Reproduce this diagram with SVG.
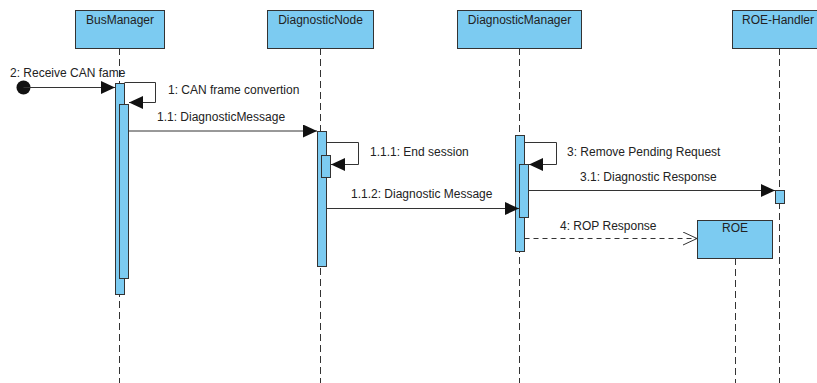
<svg xmlns="http://www.w3.org/2000/svg" width="817" height="383" viewBox="0 0 817 383">
  <style>
    .box { fill: #7ccbf1; stroke: #333; stroke-width: 1; }
    .bar { fill: #7ccbf1; stroke: #333; stroke-width: 1; }
    .life { stroke: #333; stroke-width: 1; stroke-dasharray: 7 4; fill: none; }
    .msg { stroke: #333; stroke-width: 1; fill: none; }
    .ret { stroke: #333; stroke-width: 1; fill: none; stroke-dasharray: 5 4; }
    text { font-family: "Liberation Sans", Arial, sans-serif; font-size: 12px; fill: #222; }
    .title { text-anchor: middle; }
  </style>
  <defs>
    <marker id="filled" markerUnits="userSpaceOnUse" markerWidth="15" markerHeight="14" refX="14" refY="6.5" orient="auto">
      <path d="M0,0 L14,6.5 L0,13 z" fill="#111"/>
    </marker>
    <marker id="open" markerUnits="userSpaceOnUse" markerWidth="16" markerHeight="14" refX="14" refY="6.5" orient="auto">
      <path d="M0,0 L14,6.5 L0,13" fill="none" stroke="#333" stroke-width="1"/>
    </marker>
  </defs>

  <rect width="817" height="383" fill="#fff"/>

  <!-- lifelines -->
  <g id="lifelines">
    <line class="life" x1="119.5" y1="48" x2="119.5" y2="383"/>
    <line class="life" x1="320.5" y1="48" x2="320.5" y2="383"/>
    <line class="life" x1="519.5" y1="48" x2="519.5" y2="383"/>
    <line class="life" x1="779.5" y1="48" x2="779.5" y2="383"/>
    <line class="life" x1="735.5" y1="258" x2="735.5" y2="383"/>
  </g>

  <!-- participants -->
  <g id="busmanager">
    <rect class="box" x="75.5" y="10.5" width="89" height="38"/>
    <text class="title" x="120" y="23.5">BusManager</text>
    <rect class="bar" x="115.5" y="83.5" width="9" height="211"/>
    <rect class="bar" x="119.5" y="104.5" width="9" height="174"/>
  </g>

  <g id="diagnosticnode">
    <rect class="box" x="267.5" y="10.5" width="106" height="38"/>
    <text class="title" x="320.5" y="23.5">DiagnosticNode</text>
    <rect class="bar" x="317.5" y="131.5" width="9" height="135"/>
    <rect class="bar" x="321.5" y="155.5" width="9" height="22"/>
  </g>

  <g id="diagnosticmanager">
    <rect class="box" x="457.5" y="10.5" width="124" height="38"/>
    <text class="title" x="519.5" y="23.5">DiagnosticManager</text>
    <rect class="bar" x="515.5" y="135.5" width="9" height="116"/>
    <rect class="bar" x="519.5" y="164.5" width="9" height="53"/>
  </g>

  <g id="roe-handler">
    <rect class="box" x="732.5" y="10.5" width="94" height="38"/>
    <text class="title" x="778" y="23.5">ROE-Handler</text>
    <rect class="bar" x="775.5" y="190.5" width="9" height="13"/>
  </g>

  <g id="roe">
    <rect class="box" x="697.5" y="220.5" width="75" height="38"/>
    <text class="title" x="735" y="232">ROE</text>
  </g>

  <!-- messages -->
  <g id="connectors">
    <circle cx="23.5" cy="87.5" r="7" fill="#111"/>
    <line class="msg" x1="23.5" y1="87.5" x2="115" y2="87.5" marker-end="url(#filled)"/>
    <text x="10" y="77">2: Receive CAN fame</text>

    <polyline class="msg" points="124.5,82.5 155.5,82.5 155.5,102.5 129,102.5" marker-end="url(#filled)"/>
    <text x="168" y="94">1: CAN frame convertion</text>

    <line class="msg" x1="128.5" y1="131" x2="317" y2="131" marker-end="url(#filled)"/>
    <text x="157" y="121">1.1: DiagnosticMessage</text>

    <polyline class="msg" points="326.5,142.5 358.5,142.5 358.5,164.5 331,164.5" marker-end="url(#filled)"/>
    <text x="370" y="156">1.1.1: End session</text>

    <line class="msg" x1="326.5" y1="208.5" x2="519" y2="208.5" marker-end="url(#filled)"/>
    <text x="351" y="198">1.1.2: Diagnostic Message</text>

    <polyline class="msg" points="524.5,142.5 556.5,142.5 556.5,164.5 529,164.5" marker-end="url(#filled)"/>
    <text x="567" y="156">3: Remove Pending Request</text>

    <line class="msg" x1="528.5" y1="190.5" x2="775" y2="190.5" marker-end="url(#filled)"/>
    <text x="580" y="181">3.1: Diagnostic Response</text>

    <line class="ret" x1="524.5" y1="238.5" x2="697" y2="238.5" marker-end="url(#open)"/>
    <text x="560" y="230">4: ROP Response</text>
  </g>
</svg>
